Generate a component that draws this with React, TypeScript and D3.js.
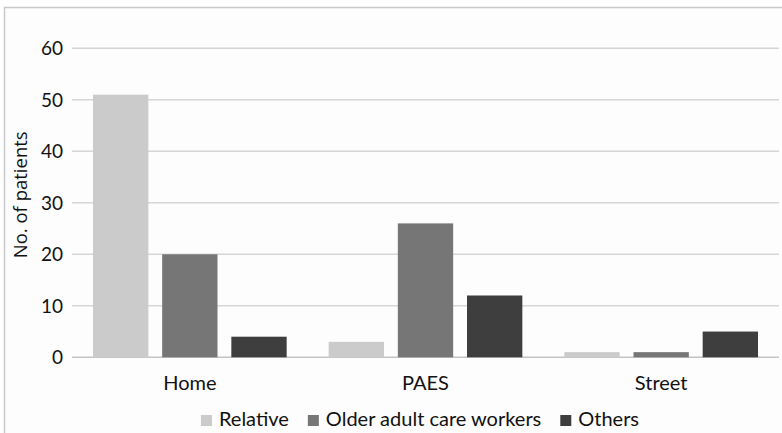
import React, { useEffect, useRef } from "react";
import * as d3 from "d3";

// Place of incident and who was involved
const categories = ["Home", "PAES", "Street"];
const seriesNames = ["Relative", "Older adult care workers", "Others"];
const relative = [51, 3, 1];
const careWorkers = [20, 26, 1];
const others = [4, 12, 5];
const yTicks = [0, 10, 20, 30, 40, 50, 60];
const seriesColors = ["#cbcbcb", "#767676", "#3e3e3e"];

const W = 782;
const H = 433;
const plot = { left: 72, right: 779, top: 48.3, bottom: 357.3 };
const labelFont = "Lato, 'Open Sans', sans-serif";

export default function App() {
  const legendRef = useRef<SVGGElement>(null);

  const x0 = d3.scaleBand<string>().domain(categories).range([plot.left, plot.right]).padding(0);
  const x1 = d3
    .scaleBand<string>()
    .domain(seriesNames)
    .range([21, x0.bandwidth() - 21])
    .paddingInner(0.2)
    .paddingOuter(0);
  const y = d3.scaleLinear().domain([0, 60]).range([plot.bottom, plot.top]);

  const values = [relative, careWorkers, others];

  useEffect(() => {
    const g = d3.select(legendRef.current);
    g.selectAll("*").remove();
    const box = 11;
    const gapText = 7;
    const gapItem = 19;
    const items = g
      .selectAll("g.item")
      .data(seriesNames)
      .join("g")
      .attr("class", "item");
    items
      .append("text")
      .attr("font-family", labelFont)
      .attr("font-size", 20)
      .attr("fill", "#111")
      .attr("y", 426)
      .text((d) => d);
    const widths: number[] = [];
    items.select("text").each(function () {
      widths.push((this as SVGTextElement).getComputedTextLength());
    });
    const total =
      d3.sum(widths) + seriesNames.length * (box + gapText) + (seriesNames.length - 1) * gapItem;
    let cx = 420 - total / 2;
    items.each(function (_d, i) {
      const item = d3.select(this);
      item
        .insert("rect", "text")
        .attr("x", cx)
        .attr("y", 415)
        .attr("width", box)
        .attr("height", box)
        .attr("fill", seriesColors[i]);
      item.select("text").attr("x", cx + box + gapText);
      cx += box + gapText + widths[i] + gapItem;
    });
  }, []);

  return (
    <svg
      width={W}
      height={H}
      style={{ position: "absolute", left: 0, top: 0, background: "#ffffff" }}
    >
      <rect x={4.5} y={7.5} width={W + 10} height={H + 10} fill="#fdfdfd" stroke="#c9c9c9" strokeWidth={1.5} />

      {/* horizontal grid */}
      {yTicks.map((t) => (
        <g key={t}>
          <line
            x1={plot.left}
            x2={plot.right}
            y1={y(t)}
            y2={y(t)}
            stroke={t === 0 ? "#c4c4c4" : "#d6d6d6"}
            strokeWidth={1.6}
          />
          <text
            x={63}
            y={y(t)}
            dy="0.36em"
            textAnchor="end"
            fontFamily={labelFont}
            fontSize={19}
            fill="#111"
          >
            {t}
          </text>
        </g>
      ))}

      {/* bars */}
      {categories.map((c, ci) => (
        <g key={c} transform={`translate(${x0(c)},0)`}>
          {seriesNames.map((s, si) => (
            <rect
              key={s}
              x={x1(s)}
              y={y(values[si][ci])}
              width={x1.bandwidth()}
              height={y(0) - y(values[si][ci])}
              fill={seriesColors[si]}
            />
          ))}
          <text
            x={x0.bandwidth() / 2}
            y={389.5}
            textAnchor="middle"
            fontFamily={labelFont}
            fontSize={20}
            fill="#111"
          >
            {c}
          </text>
        </g>
      ))}

      <text
        transform={`translate(27,${(plot.top + plot.bottom) / 2 - 8}) rotate(-90)`}
        textAnchor="middle"
        fontFamily="'Open Sans', sans-serif"
        fontSize={18.5}
        fill="#111"
      >
        No. of patients
      </text>

      <g ref={legendRef} />
    </svg>
  );
}
